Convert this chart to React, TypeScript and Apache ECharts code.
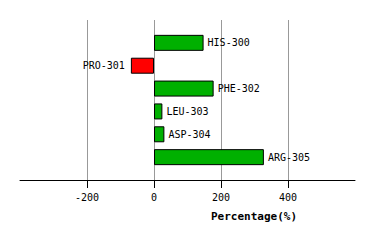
import React, { useEffect, useRef } from "react";
import * as echarts from "echarts";

const categories = ["", "HIS-300", "PRO-301", "PHE-302", "LEU-303", "ASP-304", "ARG-305", ""];
const values: (number | null)[] = [null, 148, -69, 178, 25, 31, 328, null];
const axisMin = -400;
const axisMax = 600;
const axisStep = 200;
const labelValues = [-200, 0, 200, 400];
const axisTitle = "Percentage(%)";

export default function App() {
  const ref = useRef<HTMLDivElement>(null);
  useEffect(() => {
    document.body.style.margin = "0";
    const chart = echarts.init(ref.current!, null, { renderer: "svg" });
    const font = "DejaVu Sans Mono";
    const W = 374;
    const left = 20;
    const right = 19;
    const plotW = W - left - right;
    const px = (v: number) => ((v - axisMin) / (axisMax - axisMin)) * plotW;
    const tMin = labelValues[0];
    const tMax = labelValues[labelValues.length - 1];
    chart.setOption({
      animation: false,
      grid: [
        { left, right, top: 20, bottom: 61, containLabel: false },
        { left: left + px(tMin), right: right + (plotW - px(tMax)), top: 20, bottom: 61, containLabel: false },
      ],
      xAxis: [
        {
          type: "value",
          gridIndex: 0,
          min: axisMin,
          max: axisMax,
          interval: axisStep,
          axisLine: { show: true, onZero: false, lineStyle: { color: "#000", width: 1 } },
          axisTick: { show: false },
          axisLabel: { customValues: labelValues, color: "#000", fontFamily: font, fontSize: 10, margin: 12 },
          splitLine: { show: true, showMinLine: false, showMaxLine: false, lineStyle: { color: "#999", width: 1 } },
        },
        {
          type: "value",
          gridIndex: 1,
          min: tMin,
          max: tMax,
          interval: axisStep,
          axisLine: { show: true, onZero: false, lineStyle: { color: "#000", width: 1 } },
          axisLabel: { show: false },
          splitLine: { show: false },
          axisTick: { show: true, length: 8, lineStyle: { color: "#000", width: 1 } },
        },
      ],
      yAxis: [
        {
          type: "category",
          gridIndex: 0,
          data: categories,
          inverse: true,
          boundaryGap: false,
          show: false,
        },
        { type: "value", gridIndex: 1, min: 0, max: 1, show: false },
      ],
      series: [
        {
          type: "bar",
          xAxisIndex: 0,
          yAxisIndex: 0,
          barWidth: 16,
          data: values.map((v) =>
            v === null
              ? null
              : {
                  value: v,
                  itemStyle: { color: v >= 0 ? "#00b000" : "#ff0000" },
                  label: { position: v >= 0 ? "right" : "left", distance: v >= 0 ? 4 : 6 },
                }
          ),
          itemStyle: { borderColor: "#000", borderWidth: 1 },
          label: {
            show: true,
            color: "#000",
            fontFamily: font,
            fontSize: 10,
            formatter: (p: any) => categories[p.dataIndex],
          },
        },
        {
          type: "scatter",
          xAxisIndex: 1,
          yAxisIndex: 1,
          data: [],
          silent: true,
        },
      ],
      graphic: [
        {
          type: "text",
          x: 254,
          y: 216,
          style: {
            text: axisTitle,
            fontFamily: font,
            fontSize: 11,
            fontWeight: "bold",
            fill: "#000",
            align: "center",
            verticalAlign: "middle",
          },
        },
      ],
    });
    return () => chart.dispose();
  }, []);
  return <div ref={ref} style={{ width: 374, height: 241, position: "absolute", left: 0, top: 0 }} />;
}
